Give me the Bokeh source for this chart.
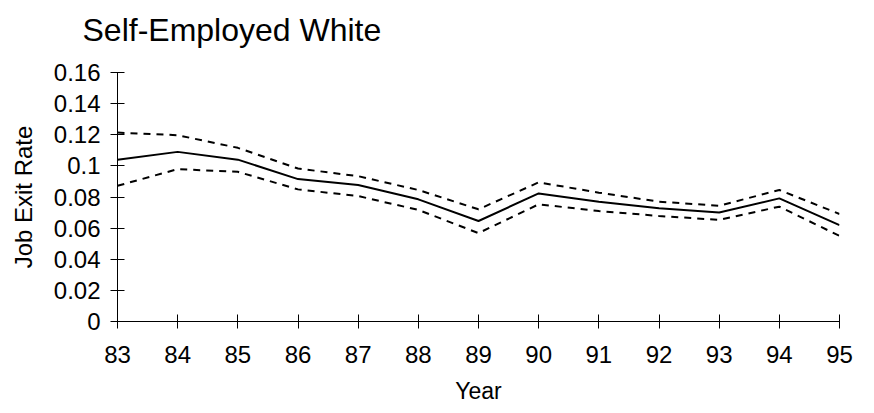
from bokeh.plotting import figure
from bokeh.models import Range1d, FixedTicker, Title
from bokeh.embed import file_html
from bokeh.resources import INLINE

years = [83, 84, 85, 86, 87, 88, 89, 90, 91, 92, 93, 94, 95]
exit_rate = [0.104, 0.109, 0.104, 0.0915, 0.0877, 0.0785, 0.0646, 0.0823, 0.077, 0.0727, 0.070, 0.0791, 0.0619]
upper_band = [0.1214, 0.1197, 0.1116, 0.0983, 0.0934, 0.0845, 0.0721, 0.0894, 0.0828, 0.077, 0.0744, 0.0845, 0.0691]
lower_band = [0.0872, 0.0979, 0.0962, 0.0849, 0.0806, 0.0717, 0.0568, 0.0753, 0.071, 0.0678, 0.0653, 0.0738, 0.055]
y_ticks = [0, 0.02, 0.04, 0.06, 0.08, 0.1, 0.12, 0.14, 0.16]
y_tick_labels = ["0", "0.02", "0.04", "0.06", "0.08", "0.1", "0.12", "0.14", "0.16"]
x_tick_labels = ["83", "84", "85", "86", "87", "88", "89", "90", "91", "92", "93", "94", "95"]
title_text = "Self-Employed White"

FONT = "Liberation Sans"

p = figure(frame_width=722, frame_height=249,
           min_border_left=117, min_border_right=34, min_border_top=0, min_border_bottom=92,
           x_range=Range1d(83, 95), y_range=Range1d(0, 0.16),
           output_backend="svg", toolbar_location=None, title=title_text)

p.line(years, exit_rate, line_color="black", line_width=2)
p.line(years, upper_band, line_color="black", line_width=2, line_dash="7 6")
p.line(years, lower_band, line_color="black", line_width=2, line_dash="7 6")

p.title.text_font = FONT
p.title.text_font_size = "32px"
p.title.text_font_style = "normal"
p.title.text_color = "black"
p.title.align = "left"
p.title.offset = -35
p.title.standoff = 18

# empty spacer between the title and the plot area
spacer = Title(text=" ", text_font=FONT, text_font_size="12px", standoff=0)
p.add_layout(spacer, "above")

p.outline_line_color = None
p.xgrid.visible = False
p.ygrid.visible = False

for ax in (p.xaxis[0], p.yaxis[0]):
    ax.axis_line_color = "black"
    ax.axis_line_width = 1
    ax.major_tick_line_color = "black"
    ax.major_tick_line_width = 1
    ax.major_tick_in = 7
    ax.major_tick_out = 7
    ax.minor_tick_line_color = None
    ax.major_label_text_font = FONT
    ax.major_label_text_font_size = "24px"
    ax.major_label_text_color = "black"
    ax.axis_label_text_font = FONT
    ax.axis_label_text_font_style = "normal"
    ax.axis_label_text_color = "black"

p.xaxis[0].ticker = FixedTicker(ticks=years)
p.xaxis[0].major_label_overrides = {y: s for y, s in zip(years, x_tick_labels)}
p.xaxis[0].major_label_standoff = 17
p.xaxis[0].axis_label = "Year"
p.xaxis[0].axis_label_text_font_size = "23px"
p.xaxis[0].axis_label_standoff = 12

p.yaxis[0].ticker = FixedTicker(ticks=y_ticks)
p.yaxis[0].major_label_overrides = {t: s for t, s in zip(y_ticks, y_tick_labels)}
p.yaxis[0].major_label_standoff = 10
p.yaxis[0].axis_label = "Job Exit Rate"
p.yaxis[0].axis_label_text_font_size = "24px"
p.yaxis[0].axis_label_standoff = 14

open("out.html", "w").write(file_html(p, INLINE))
